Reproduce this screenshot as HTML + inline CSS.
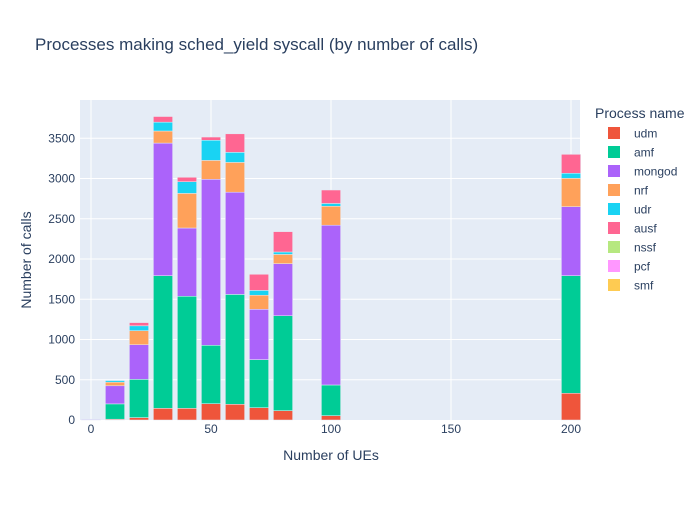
<!DOCTYPE html>
<html><head><meta charset="utf-8"><style>
body{margin:0;background:#fff;font-family:"Liberation Sans",Arial,sans-serif}
</style></head><body>
<svg id="chart" width="700" height="500" xmlns="http://www.w3.org/2000/svg" font-family="Liberation Sans, Arial, sans-serif">
<rect width="700" height="500" fill="#fff"/>
<text x="35" y="50" font-size="17" fill="#2a3f5f">Processes making sched_yield syscall (by number of calls)</text>
<rect x="80" y="100" width="500" height="320" fill="#e5ecf6"/>
<g id="grid"></g><g id="bars"></g><g id="axes"></g><g id="legend"></g>
<text x="331" y="460" font-size="14" fill="#2a3f5f" text-anchor="middle">Number of UEs</text>
<text transform="translate(31,260) rotate(-90)" font-size="14" fill="#2a3f5f" text-anchor="middle">Number of calls</text>
</svg>
<script>
const categories=[0,10,20,30,40,50,60,70,80,100,200];
const seriesNames=["udm","amf","mongod","nrf","udr","ausf","nssf","pcf","smf"];
const colors=["#EF553B","#00CC96","#AB63FA","#FFA15A","#19D3F3","#FF6692","#B6E880","#FF97FF","#FECB52"];
const udm=[2,10,30,145,145,203,195,153,116,54,332];
const amf=[0,190,475,1648,1392,725,1365,597,1179,381,1461];
const mongod=[8,225,430,1647,848,2062,1270,625,647,1985,857];
const nrf=[0,45,175,150,430,235,370,175,115,235,352];
const udr=[0,20,60,110,145,250,125,60,30,35,63];
const ausf=[0,0,40,70,55,40,230,200,253,167,235];
const nssf=[0,0,0,0,0,0,0,0,0,0,0];
const pcf=[0,0,0,0,0,0,0,0,0,0,0];
const smf=[0,0,0,0,0,0,0,0,0,0,0];
const yTicks=[0,500,1000,1500,2000,2500,3000,3500];
const xTicks=[0,50,100,150,200];
const series=[udm,amf,mongod,nrf,udr,ausf,nssf,pcf,smf];
const NS="http://www.w3.org/2000/svg";
const xs=v=>91+2.4*v, ys=v=>420-0.0805*v;
function mk(t,a,p){const e=document.createElementNS(NS,t);for(const k in a)e.setAttribute(k,a[k]);p.appendChild(e);return e;}
const grid=document.getElementById('grid'),axes=document.getElementById('axes'),bars=document.getElementById('bars'),leg=document.getElementById('legend');
yTicks.forEach(t=>{
 if(t>0){const l=mk('line',{x1:80,x2:580,y1:ys(t),y2:ys(t),stroke:'#fff','stroke-width':1},grid);
 
 }
 const tx=mk('text',{x:75,y:ys(t)+4,'font-size':12,fill:'#2a3f5f','text-anchor':'end'},axes);tx.textContent=t;
 
 
});
xTicks.forEach(t=>{
 const l=mk('line',{x1:xs(t),x2:xs(t),y1:100,y2:420,stroke:'#fff','stroke-width':1},grid);
 
 
 const tx=mk('text',{x:xs(t),y:433,'font-size':12,fill:'#2a3f5f','text-anchor':'middle'},axes);tx.textContent=t;
 
 
});
categories.forEach((c,i)=>{
 let base=0;
 series.forEach((s,j)=>{
  const v=s[i]; if(v<=0)return;
  const r=mk('rect',{x:xs(c)-9.6,width:19.2,y:ys(base+v),height:ys(base)-ys(base+v),fill:colors[j],stroke:'#e5ecf6','stroke-width':0.5},bars);
  
  
  base+=v;
 });
});
const lt=mk('text',{x:595,y:118,'font-size':14,fill:'#2a3f5f'},leg);lt.textContent='Process name';


seriesNames.forEach((n,j)=>{
 const y=133+19*j;
 const g=mk('g',{},leg);
 
 
 mk('rect',{x:608,y:y-6,width:12,height:12,fill:colors[j]},g);
 const t=mk('text',{x:634,y:y+4.5,'font-size':12,fill:'#2a3f5f'},g);t.textContent=n;
});
</script>
</body></html>
